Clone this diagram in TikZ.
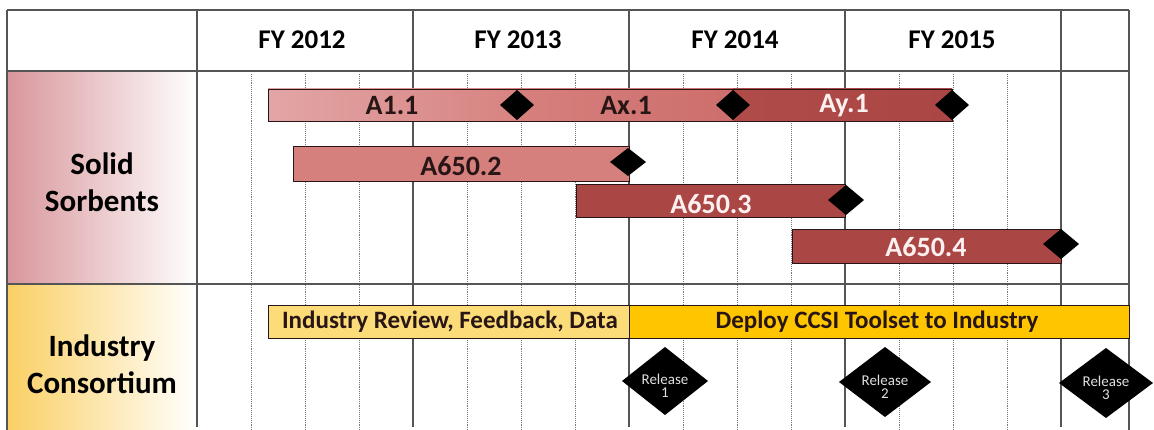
\documentclass[tikz,border=0pt]{standalone}
\usepackage{fontspec}
\setmainfont{Carlito}
\usepackage{xcolor}
\definecolor{gridgray}{RGB}{85, 85, 85}
\definecolor{dotgray}{RGB}{120, 120, 120}
\definecolor{sorbpink}{RGB}{216, 150, 155}
\definecolor{consyellow}{RGB}{250, 208, 100}
\definecolor{pinklight}{RGB}{226, 165, 165}
\definecolor{pinkmid}{RGB}{214, 128, 125}
\definecolor{pinkdeep}{RGB}{205, 110, 108}
\definecolor{reddark}{RGB}{170, 70, 68}
\definecolor{yellowlight}{RGB}{252, 220, 120}
\definecolor{yellowgold}{RGB}{255, 198, 0}
\definecolor{lbldark}{RGB}{40, 22, 22}
\definecolor{lbllight}{RGB}{252, 240, 240}
\tikzset{
  gridyear/.style   = {draw=gridgray, line width=1.3pt},
  gridqtr/.style    = {draw=dotgray, densely dotted, line width=0.9pt},
  barline/.style    = {draw=lbldark, line width=0.8pt},
  milestone/.style  = {fill=black},
  yearlbl/.style    = {font=\fontsize{27}{30}\selectfont\bfseries, text=black},
  rowlbl/.style     = {font=\fontsize{31}{37}\selectfont\bfseries, align=center, text=black},
  barlbl/.style     = {font=\fontsize{28}{30}\selectfont\bfseries},
  indlbl/.style     = {font=\fontsize{25}{27}\selectfont\bfseries, text=lbldark},
  rellbl/.style     = {font=\fontsize{15}{13}\selectfont, align=center, text=white!88!black},
}
\begin{document}
\begin{tikzpicture}[x=1pt, y=-1pt]
\useasboundingbox (0,0) rectangle (1154,430);

% row label backgrounds
\shade[left color=sorbpink, right color=white] (7,71) rectangle (197,284);
\shade[left color=consyellow, right color=white] (7,284) rectangle (197,430);

% quarter lines
\foreach \x in {251,305,359,467,521,575,683,737,791,899,953,1007}
  \draw[gridqtr] (\x,74) -- (\x,430);

% year lines and frame
\foreach \x in {197,413,629,845,1061}
  \draw[gridyear] (\x,10) -- (\x,427);
\draw[gridyear] (7,10) -- (1129,10);
\draw[gridyear] (7,71) -- (1129,71);
\draw[gridyear] (7,284) -- (1129,284);
\draw[gridyear] (7,10) -- (7,430);
\draw[gridyear] (1129,10) -- (1129,430);

% header
\node[yearlbl] (fy12) at (302,40) {FY 2012};
\node[yearlbl] (fy13) at (518,40) {FY 2013};
\node[yearlbl] (fy14) at (735,40) {FY 2014};
\node[yearlbl] (fy15) at (952,40) {FY 2015};

% row labels
\node[rowlbl] (sorb) at (102,182) {Solid\\Sorbents};
\node[rowlbl] (cons) at (102,364) {Industry\\Consortium};

% A1.1 / Ax.1 / Ay.1 bar
\shade[left color=pinklight, right color=pinkmid!90!pinklight] (268,89) rectangle (517,121);
\shade[left color=pinkmid, right color=pinkdeep] (517,89) rectangle (733,121);
\shade[left color=reddark!85!pinkdeep, right color=reddark] (733,89) rectangle (952,121);
\draw[barline] (268,89) rectangle (952,121);
\node[barlbl, text=lbldark] (a11) at (392,106) {A1.1};
\node[barlbl, text=lbldark] (ax1) at (626,106) {Ax.1};
\node[barlbl, text=lbllight] (ay1) at (844,106) {Ay.1};
\fill[milestone] (517,105) +(-17,0) -- +(0,-15) -- +(17,0) -- +(0,15) -- cycle;
\fill[milestone] (733,105) +(-17,0) -- +(0,-15) -- +(17,0) -- +(0,15) -- cycle;
\fill[milestone] (952,105) +(-17,0) -- +(0,-15) -- +(17,0) -- +(0,15) -- cycle;

% A650.2
\path[barline, fill=pinkmid] (293,146) rectangle (629,181);
\node[barlbl, text=lbldark] (a6502) at (461,166) {A650.2};
\fill[milestone] (628,162) +(-18,0) -- +(0,-14) -- +(18,0) -- +(0,14) -- cycle;

% A650.3
\path[barline, fill=reddark] (576,184) rectangle (845,217);
\node[barlbl, text=lbllight] (a6503) at (711,204) {A650.3};
\fill[milestone] (846,200) +(-18,0) -- +(0,-15) -- +(18,0) -- +(0,15) -- cycle;

% A650.4
\path[barline, fill=reddark] (792,229) rectangle (1061,263);
\node[barlbl, text=lbllight] (a6504) at (926,247) {A650.4};
\fill[milestone] (1061,244) +(-18,0) -- +(0,-15) -- +(18,0) -- +(0,15) -- cycle;

% industry bars
\path[barline, fill=yellowlight] (268,305) rectangle (629,338);
\node[indlbl] (review) at (450,322) {Industry Review, Feedback, Data};
\path[barline, fill=yellowgold] (629,305) rectangle (1129,338);
\node[indlbl] (deploy) at (877,322) {Deploy CCSI Toolset to Industry};

% releases
\fill[milestone] (665,381) +(-43,0) -- +(0,-34) -- +(43,0) -- +(0,34) -- cycle;
\node[rellbl] (rel1) at (665,386) {Release\\1};
\fill[milestone] (885,382) +(-46,0) -- +(0,-35) -- +(46,0) -- +(0,35) -- cycle;
\node[rellbl] (rel2) at (885,387) {Release\\2};
\fill[milestone] (1106,383) +(-47,0) -- +(0,-35) -- +(47,0) -- +(0,35) -- cycle;
\node[rellbl] (rel3) at (1106,388) {Release\\3};

\end{tikzpicture}
\end{document}
